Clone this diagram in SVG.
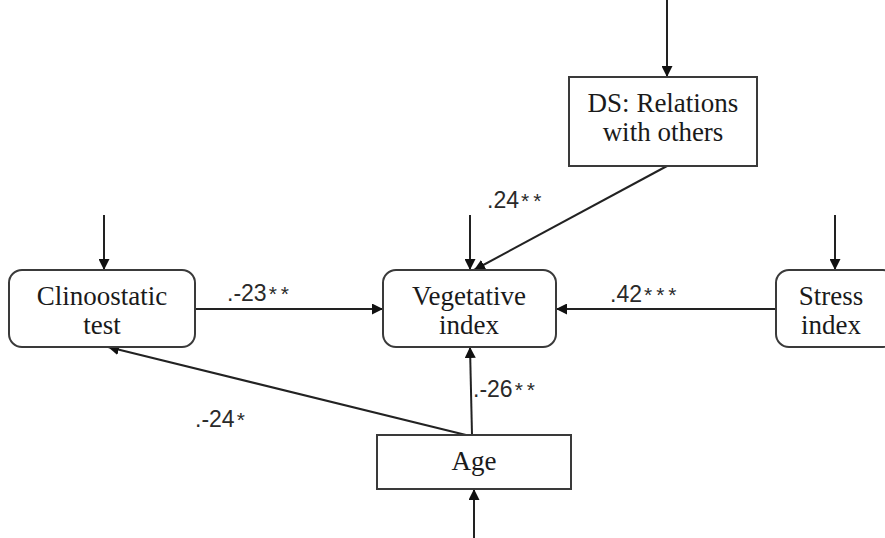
<svg xmlns="http://www.w3.org/2000/svg" width="885" height="538" viewBox="0 0 885 538">
<style>
.box{fill:#fff;stroke:#3a3a3a;stroke-width:2}
.nt{font-family:"Liberation Serif","Times New Roman",serif;font-size:27px;fill:#1a1a1a;text-anchor:middle}
.lb{font-family:"Liberation Sans",Arial,sans-serif;font-size:23px;fill:#2a2a2a}
.st{letter-spacing:4px;font-size:21px}
.ln{stroke:#222;stroke-width:2;fill:none;marker-end:url(#ah)}
</style>
<defs>
<marker id="ah" viewBox="0 0 10 10" refX="10" refY="5" markerWidth="11" markerHeight="11" markerUnits="userSpaceOnUse" orient="auto">
<path d="M0,0 L10,5 L0,10 z" fill="#111"/>
</marker>
</defs>
<rect width="885" height="538" fill="#fff"/>
<g id="connectors">
<line class="ln" x1="667" y1="0" x2="667" y2="77"/>
<line class="ln" x1="104" y1="215" x2="104" y2="270"/>
<line class="ln" x1="470" y1="215" x2="470" y2="270"/>
<line class="ln" x1="835" y1="215" x2="835" y2="270"/>
<line class="ln" x1="667" y1="166" x2="474" y2="270"/>
<line class="ln" x1="195" y1="309" x2="383" y2="309"/>
<line class="ln" x1="776" y1="309" x2="556" y2="309"/>
<line class="ln" x1="472" y1="435" x2="470" y2="347"/>
<line class="ln" x1="466" y1="435" x2="108" y2="347"/>
<line class="ln" x1="474" y1="538" x2="474" y2="489"/>
</g>
<g id="labels">
<text class="lb" x="227" y="301">.-23<tspan class="st" dx="2">**</tspan></text>
<text class="lb" x="610" y="302">.42<tspan class="st" dx="2">***</tspan></text>
<text class="lb" x="487" y="208">.24<tspan class="st" dx="2">**</tspan></text>
<text class="lb" x="473" y="397">.-26<tspan class="st" dx="2">**</tspan></text>
<text class="lb" x="195" y="427">.-24<tspan class="st" dx="2">*</tspan></text>
</g>
<g id="node-ds">
<rect class="box" x="569" y="77" width="188" height="89"/>
<text class="nt" x="663" y="112">DS: Relations</text>
<text class="nt" x="663" y="141">with others</text>
</g>
<g id="node-clino">
<rect class="box" x="9" y="270" width="186" height="77" rx="13"/>
<text class="nt" x="102" y="305">Clinoostatic</text>
<text class="nt" x="102" y="334">test</text>
</g>
<g id="node-veg">
<rect class="box" x="383" y="270" width="173" height="77" rx="13"/>
<text class="nt" x="469" y="305">Vegetative</text>
<text class="nt" x="469" y="334">index</text>
</g>
<g id="node-stress">
<rect class="box" x="776" y="270" width="120" height="77" rx="13"/>
<text class="nt" x="831" y="305">Stress</text>
<text class="nt" x="831" y="334">index</text>
</g>
<g id="node-age">
<rect class="box" x="377" y="435" width="194" height="54"/>
<text class="nt" x="474" y="470">Age</text>
</g>
</svg>
